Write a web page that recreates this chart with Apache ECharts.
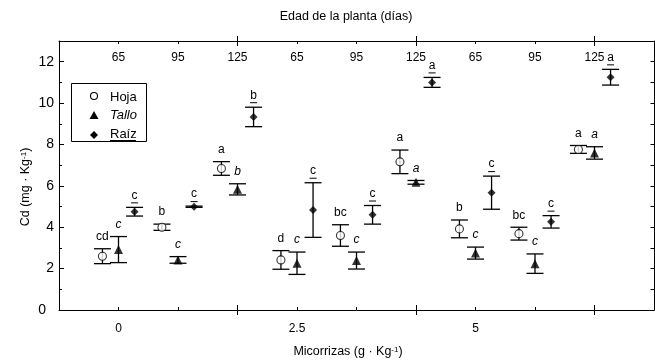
<!DOCTYPE html>
<html>
<head>
<meta charset="utf-8">
<script src="https://cdn.jsdelivr.net/npm/echarts@6/dist/echarts.min.js"></script>
<style>
  html, body { margin: 0; padding: 0; background: #fff; }
  #chart { width: 655px; height: 362px; }
</style>
</head>
<body>
<div id="chart"></div>
<script>
// micorrizas (g/kg) and plant age (days)
const doses = ['0', '2.5', '5'];
const ages = ['65', '95', '125'];

// 9 slots: dose 0 (65,95,125), dose 2.5 (...), dose 5 (...)
const hojaMean = [2.6, 4.0, 6.84, 2.42, 3.6, 7.16, 3.92, 3.69, 7.76];
const hojaErr = [0.36, 0.15, 0.33, 0.45, 0.52, 0.57, 0.43, 0.31, 0.19];
const hojaLetters = ['cd', 'b', 'a', 'd', 'bc', 'a', 'b', 'bc', 'a'];

const talloMean = [2.92, 2.42, 5.83, 2.26, 2.39, 6.17, 2.75, 2.24, 7.59];
const talloErr = [0.63, 0.16, 0.27, 0.54, 0.41, 0.09, 0.29, 0.47, 0.3];
const talloLetters = ['c', 'c', 'b', 'c', 'c', 'a', 'c', 'c', 'a'];

const raizMean = [4.75, 4.99, 9.33, 4.83, 4.6, 11.0, 5.67, 4.26, 11.25];
const raizErr = [0.21, 0.03, 0.47, 1.32, 0.45, 0.24, 0.8, 0.3, 0.38];
const raizLetters = ['c', 'c', 'b', 'c', 'c', 'a', 'c', 'c', 'a'];

const yLabels = [0, 2, 4, 6, 8, 10, 12];

const FONT = '"Liberation Sans", Arial, sans-serif';
const offsets = [-0.27, 0, 0.27]; // hoja, tallo, raiz
const slotX = (i, k) => i + 1 + offsets[k];

const chart = echarts.init(document.getElementById('chart'));

const black = { color: '#000', width: 1 };
const allInts = Array.from({ length: 14 }, (_, i) => i);
const minorX = [1, 2, 4, 5, 7, 8];
const majorX = [3, 6, 9];

function xAx(position, opts) {
  return Object.assign({
    type: 'value', position, min: 0, max: 10,
    axisLine: { show: false, onZero: false, lineStyle: black },
    axisTick: { show: false },
    axisLabel: { show: false },
    splitLine: { show: false }
  }, opts);
}
function yAx(position, opts) {
  return Object.assign({
    type: 'value', position, min: 0, max: 13,
    axisLine: { show: false, onZero: false, lineStyle: black },
    axisTick: { show: false },
    axisLabel: { show: false },
    splitLine: { show: false }
  }, opts);
}

function errorSeries(mean, err, letters, kind) {
  return {
    type: 'custom',
    z: 2,
    data: mean.map((v, i) => [slotX(i, kind), v - err[i], v + err[i]]),
    renderItem: (params, api) => {
      const x = api.value(0);
      const top = api.coord([x, api.value(2)]);
      const bot = api.coord([x, api.value(1)]);
      const cap = 8.5;
      const ls = { stroke: '#000', lineWidth: 1.3 };
      const children = [
        { type: 'line', shape: { x1: top[0], y1: top[1], x2: bot[0], y2: bot[1] }, style: ls },
        { type: 'line', shape: { x1: top[0] - cap, y1: top[1], x2: top[0] + cap, y2: top[1] }, style: ls },
        { type: 'line', shape: { x1: bot[0] - cap, y1: bot[1], x2: bot[0] + cap, y2: bot[1] }, style: ls },
        {
          type: 'text',
          style: {
            text: letters[params.dataIndex], x: top[0], y: top[1] - 12,
            align: 'center', verticalAlign: 'middle', fill: '#000',
            font: (kind === 1 ? 'italic ' : '') + '12px ' + FONT
          }
        }
      ];
      if (kind === 2) {
        children.push({ type: 'line', shape: { x1: top[0] - 3.5, y1: top[1] - 4.5, x2: top[0] + 3.5, y2: top[1] - 4.5 }, style: { stroke: '#000', lineWidth: 1 } });
      }
      return { type: 'group', children };
    }
  };
}

function markSeries(name, mean, kind, symbol, size, style) {
  return {
    name, type: 'scatter', z: 3, symbol, symbolSize: size,
    data: mean.map((v, i) => [slotX(i, kind), v]),
    itemStyle: style
  };
}

const option = {
  animation: false,
  grid: { left: 59, right: 1, top: 41, bottom: 52 },
  xAxis: [
    xAx('bottom', {
      axisLine: { show: true, onZero: false, lineStyle: black },
      axisTick: { show: true, inside: true, length: 3, customValues: minorX, lineStyle: black },
      axisLabel: { show: true, customValues: [1, 4, 7], formatter: v => doses[(v - 1) / 3], margin: 13, color: '#000', fontSize: 12, fontFamily: 'Liberation Sans' }
    }),
    xAx('bottom', { axisTick: { show: true, inside: true, length: 5, customValues: majorX, lineStyle: black } }),
    xAx('bottom', { axisTick: { show: true, inside: false, length: 5, customValues: majorX, lineStyle: black } }),
    xAx('top', {
      axisLine: { show: true, onZero: false, lineStyle: black },
      axisTick: { show: true, inside: true, length: 3, customValues: minorX, lineStyle: black },
      axisLabel: { show: true, inside: true, customValues: [1, 2, 3, 4, 5, 6, 7, 8, 9], formatter: v => ages[(v - 1) % 3], margin: 11, color: '#000', fontSize: 12, fontFamily: 'Liberation Sans' }
    }),
    xAx('top', { axisTick: { show: true, inside: true, length: 5, customValues: majorX, lineStyle: black } }),
    xAx('top', { axisTick: { show: true, inside: false, length: 5, customValues: majorX, lineStyle: black } })
  ],
  yAxis: [
    yAx('left', {
      axisLine: { show: true, onZero: false, lineStyle: black },
      axisTick: { show: true, inside: true, length: 5, customValues: yLabels, lineStyle: black },
      axisLabel: {
        show: true, customValues: yLabels, margin: 5, color: '#000', fontSize: 14, fontFamily: 'Liberation Sans',
        formatter: v => v === 0 ? '{z|0}' : String(v),
        rich: { z: { fontSize: 14, fontFamily: 'Liberation Sans', padding: [0, 8, 0, 0] } }
      }
    }),
    yAx('left', { axisTick: { show: true, inside: true, length: 3, customValues: allInts.filter(v => v % 2 === 1 && v < 13), lineStyle: black } }),
    yAx('right', {
      axisLine: { show: true, onZero: false, lineStyle: black },
      axisTick: { show: true, inside: true, length: 3.5, customValues: allInts.filter(v => v > 0 && v < 13), lineStyle: black }
    })
  ],
  series: [
    errorSeries(hojaMean, hojaErr, hojaLetters, 0),
    errorSeries(talloMean, talloErr, talloLetters, 1),
    errorSeries(raizMean, raizErr, raizLetters, 2),
    markSeries('Hoja', hojaMean, 0, 'circle', 8, { color: '#fff', borderColor: '#000', borderWidth: 1.1 }),
    markSeries('Tallo', talloMean, 1, 'triangle', 9, { color: '#000' }),
    markSeries('Raíz', raizMean, 2, 'diamond', 8, { color: '#000' })
  ],
  graphic: [
    { type: 'text', x: 346, y: 17, style: { text: 'Edad de la planta (días)', align: 'center', verticalAlign: 'middle', font: '12.5px ' + FONT, fill: '#000' } },
    {
      type: 'text', x: 348, y: 352,
      style: {
        text: 'Micorrizas (g · Kg{sup|-1})', align: 'center', verticalAlign: 'middle', font: '12.5px ' + FONT, fill: '#000',
        rich: { sup: { fontSize: 8, fontFamily: 'Liberation Sans', verticalAlign: 'top', lineHeight: 10 } }
      }
    },
    {
      type: 'text', x: 26, y: 187, rotation: Math.PI / 2,
      style: {
        text: 'Cd (mg · Kg{sup|-1})', align: 'center', verticalAlign: 'middle', font: '12.5px ' + FONT, fill: '#000',
        rich: { sup: { fontSize: 8, fontFamily: 'Liberation Sans', verticalAlign: 'top', lineHeight: 10 } }
      }
    },
    {
      type: 'group', z: 10,
      children: [
        { type: 'rect', shape: { x: 71.5, y: 83.5, width: 75, height: 58 }, style: { fill: '#fff', stroke: '#000', lineWidth: 1 } },
        { type: 'circle', shape: { cx: 94, cy: 96, r: 3.5 }, style: { fill: '#fff', stroke: '#000', lineWidth: 1.1 } },
        { type: 'polygon', shape: { points: [[94, 111], [98.5, 119], [89.5, 119]] }, style: { fill: '#000' } },
        { type: 'polygon', shape: { points: [[94, 131], [98, 135], [94, 139], [90, 135]] }, style: { fill: '#000' } },
        { type: 'text', x: 110, y: 97, style: { text: 'Hoja', align: 'left', verticalAlign: 'middle', font: '13px ' + FONT, fill: '#000' } },
        { type: 'text', x: 110, y: 115.5, style: { text: 'Tallo', align: 'left', verticalAlign: 'middle', font: 'italic 13px ' + FONT, fill: '#000' } },
        { type: 'text', x: 110, y: 134.5, style: { text: 'Raíz', align: 'left', verticalAlign: 'middle', font: '13px ' + FONT, fill: '#000' } },
        { type: 'line', shape: { x1: 110, y1: 140.5, x2: 136, y2: 140.5 }, style: { stroke: '#000', lineWidth: 1 } }
      ]
    }
  ]
};

chart.setOption(option);
</script>
</body>
</html>
